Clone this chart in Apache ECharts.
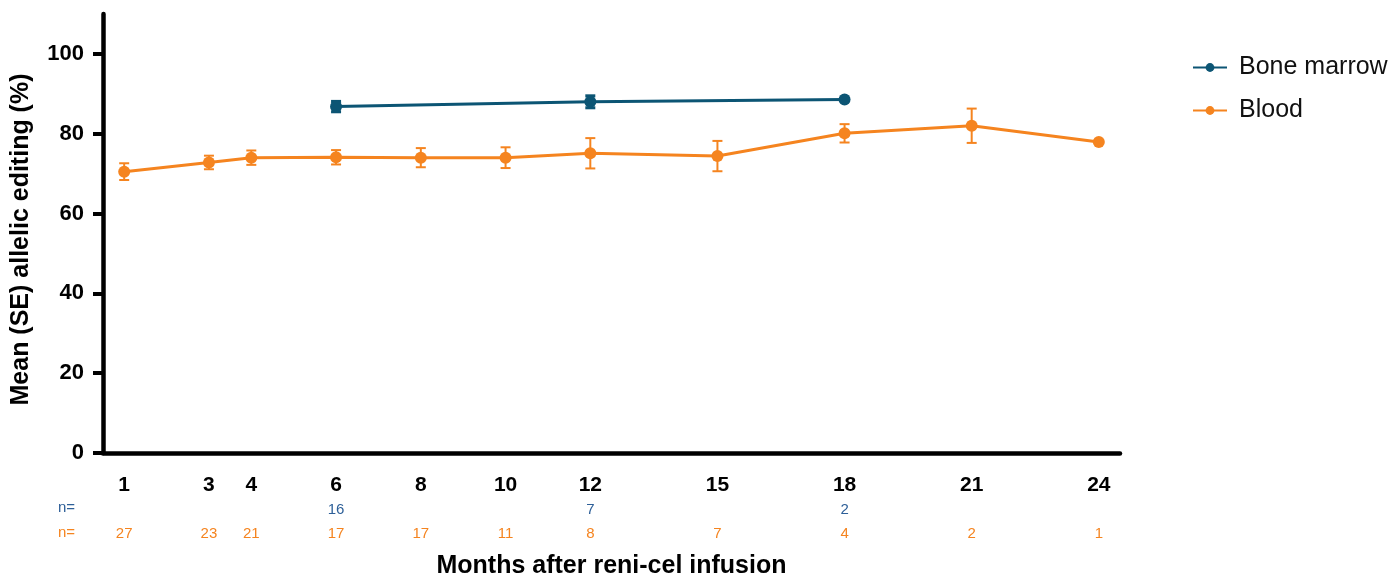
<!DOCTYPE html>
<html><head><meta charset="utf-8">
<script src="https://cdn.jsdelivr.net/npm/echarts@6/dist/echarts.min.js"></script>
<style>html,body{margin:0;padding:0;background:#fff}#c{width:1391px;height:574px}</style>
</head><body><div id="c"></div>
<script>
const months = [1, 3, 4, 6, 8, 10, 12, 15, 18, 21, 24];
const marrowMonths = [6, 12, 18];
const marrowMean = [86.8, 88.0, 88.6];
const marrowSE = [1.3, 1.5, 0];
const marrowN = [16, 7, 2];
const bloodMonths = [1, 3, 4, 6, 8, 10, 12, 15, 18, 21, 24];
const bloodMean = [70.5, 72.8, 74.0, 74.1, 74.0, 74.0, 75.1, 74.4, 80.1, 82.0, 77.9];
const bloodSE = [2.1, 1.7, 1.8, 1.8, 2.4, 2.6, 3.8, 3.8, 2.3, 4.3, 0];
const bloodN = [27, 23, 21, 17, 17, 11, 8, 7, 4, 2, 1];
const yTicks = [0, 20, 40, 60, 80, 100];

const MARROW = '#0c5574', BLOOD = '#f5841f', NBLUE = '#2d5f98';

function errSeries(name, xs, ms, ses, color, lw) {
  const data = xs.map((x, i) => [x, ms[i], ses[i]]);
  return {
    type: 'custom', name: name + '_err', silent: true, z: 3,
    data: data,
    renderItem: function (params, api) {
      const x = api.value(0), m = api.value(1), se = api.value(2);
      if (!se) return null;
      const hi = api.coord([x, m + se]), lo = api.coord([x, m - se]);
      const w = 5;
      const st = { stroke: color, lineWidth: lw };
      return { type: 'group', children: [
        { type: 'line', shape: { x1: hi[0], y1: hi[1], x2: lo[0], y2: lo[1] }, style: st },
        { type: 'line', shape: { x1: hi[0] - w, y1: hi[1], x2: hi[0] + w, y2: hi[1] }, style: st },
        { type: 'line', shape: { x1: lo[0] - w, y1: lo[1], x2: lo[0] + w, y2: lo[1] }, style: st }
      ]};
    }
  };
}

function xLabel(v) {
  const mi = marrowMonths.indexOf(v), bi = bloodMonths.indexOf(v);
  const b = mi >= 0 ? String(marrowN[mi]) : ' ';
  const o = bi >= 0 ? String(bloodN[bi]) : ' ';
  return '{m|' + v + '}\n{b|' + b + '}\n{o|' + o + '}';
}

const chart = echarts.init(document.getElementById('c'));
chart.setOption({
  animation: false,
  grid: { left: 103, right: 271, top: 14, bottom: 121, containLabel: false, outerBoundsMode: 'none' },
  legend: {
    orient: 'vertical', left: 1187, top: 50, itemWidth: 34, itemHeight: 11, itemGap: 18,
    textStyle: { fontFamily: 'Liberation Sans', fontSize: 25, color: '#111', padding: [0, 0, 0, 7] },
    data: ['Bone marrow', 'Blood']
  },
  xAxis: {
    type: 'value', min: 0.5, max: 24.5,
    name: 'Months after reni-cel infusion', nameLocation: 'middle', nameGap: 101,
    nameTextStyle: { fontFamily: 'Liberation Sans', fontSize: 25, fontWeight: 'bold', color: '#000' },
    axisLine: { lineStyle: { color: '#000', width: 4.5 } },
    axisTick: { show: false },
    splitLine: { show: false },
    axisLabel: {
      customValues: months, formatter: xLabel, margin: 19,
      rich: {
        m: { fontFamily: 'Liberation Sans', fontSize: 21, fontWeight: 'bold', color: '#000', lineHeight: 27 },
        b: { fontFamily: 'Liberation Sans', fontSize: 15, color: NBLUE, lineHeight: 22 },
        o: { fontFamily: 'Liberation Sans', fontSize: 15, color: BLOOD, lineHeight: 26 }
      }
    }
  },
  yAxis: {
    type: 'value', min: 0, max: 110,
    name: 'Mean (SE) allelic editing (%)', nameLocation: 'middle', nameGap: 69, nameRotate: 90,
    nameTextStyle: { fontFamily: 'Liberation Sans', fontSize: 25, fontWeight: 'bold', color: '#000', padding: [0, 12, 0, 0] },
    axisLine: { show: true, lineStyle: { color: '#000', width: 4.5 } },
    axisTick: { show: true, customValues: yTicks, length: 10, lineStyle: { color: '#000', width: 4 } },
    splitLine: { show: false },
    axisLabel: { customValues: yTicks, margin: 19, fontFamily: 'Liberation Sans', fontSize: 22, fontWeight: 'bold', color: '#000' }
  },
  graphic: [
    { type: 'text', left: 58, top: 500, style: { text: 'n=', fontFamily: 'Liberation Sans', fontSize: 15, fill: NBLUE } },
    { type: 'text', left: 58, top: 525, style: { text: 'n=', fontFamily: 'Liberation Sans', fontSize: 15, fill: BLOOD } }
  ],
  series: [
    errSeries('Bone marrow', marrowMonths, marrowMean, marrowSE, MARROW, 3),
    errSeries('Blood', bloodMonths, bloodMean, bloodSE, BLOOD, 2),
    {
      type: 'line', name: 'Bone marrow', z: 4,
      data: marrowMonths.map((x, i) => [x, marrowMean[i]]),
      symbol: 'circle', symbolSize: 12,
      lineStyle: { color: MARROW, width: 3 }, itemStyle: { color: MARROW }
    },
    {
      type: 'line', name: 'Blood', z: 4,
      data: bloodMonths.map((x, i) => [x, bloodMean[i]]),
      symbol: 'circle', symbolSize: 12,
      lineStyle: { color: BLOOD, width: 3 }, itemStyle: { color: BLOOD }
    }
  ]
});
</script></body></html>
